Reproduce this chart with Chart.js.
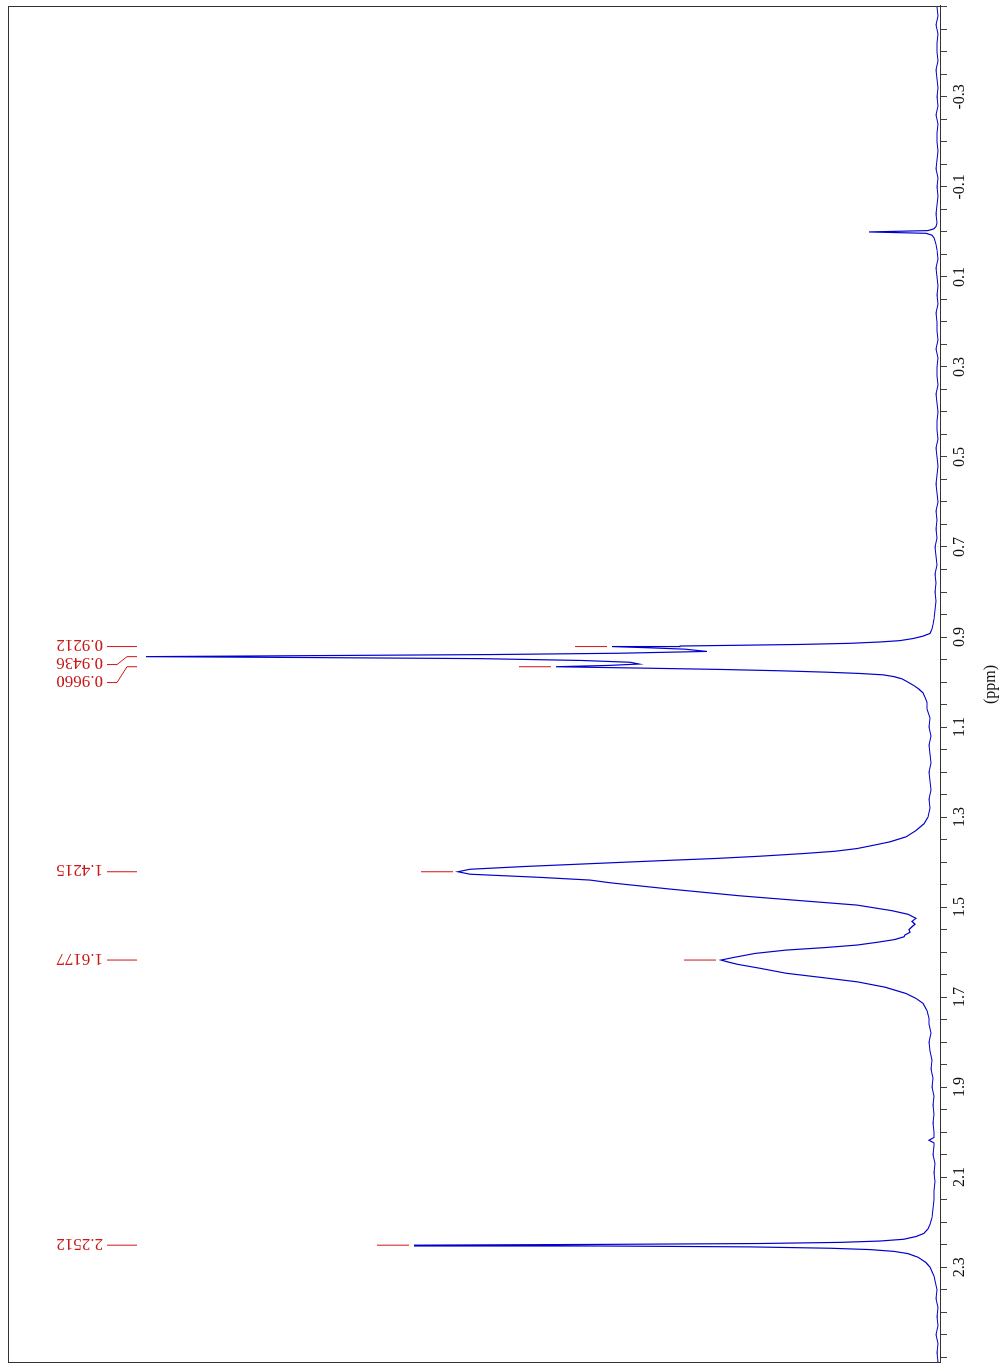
<!DOCTYPE html>
<html>
<head>
<meta charset="utf-8">
<title>1H NMR spectrum</title>
<script src="https://cdn.jsdelivr.net/npm/chart.js@4.4.1/dist/chart.umd.min.js"></script>
<style>
  html, body { margin: 0; padding: 0; background: #fff; overflow: hidden; }
  /* the spectrum is drawn landscape and turned a quarter turn to stand on its side */
  #wrap {
    position: absolute; left: 0; top: 0;
    width: 1365px; height: 1000px;
    transform-origin: 0 0;
    transform: translateY(1365px) rotate(-90deg);
  }
</style>
</head>
<body>
<div id="wrap"><canvas id="nmrChart" width="1365" height="1000"></canvas></div>
<script>
// Spectrum: chemical shift (ppm) and relative intensity
const ppm = [
  -0.50, -0.48, -0.46, -0.44, -0.42, -0.40, -0.38, -0.36, -0.34, -0.32,
  -0.30, -0.28, -0.26, -0.24, -0.22, -0.20, -0.18, -0.16, -0.14, -0.12,
  -0.10, -0.08, -0.06, -0.04, -0.02, -0.012, -0.007, -0.003, 0.000, 0.003,
  0.007, 0.013, 0.020, 0.028, 0.04, 0.06, 0.08, 0.10, 0.12, 0.14,
  0.16, 0.18, 0.20, 0.22, 0.24, 0.26, 0.28, 0.30, 0.32, 0.34,
  0.36, 0.38, 0.40, 0.42, 0.44, 0.46, 0.48, 0.50, 0.52, 0.54,
  0.56, 0.58, 0.60, 0.62, 0.64, 0.66, 0.68, 0.70, 0.72, 0.74,
  0.76, 0.78, 0.80, 0.82, 0.84, 0.86, 0.872, 0.882, 0.892, 0.898,
  0.903, 0.908, 0.911, 0.914, 0.9165, 0.918, 0.920, 0.9212, 0.924, 0.927,
  0.932, 0.936, 0.939, 0.9415, 0.9436, 0.9455, 0.948, 0.952, 0.956, 0.960,
  0.963, 0.966, 0.969, 0.972, 0.975, 0.978, 0.981, 0.984, 0.988, 0.993,
  0.999, 1.008, 1.016, 1.024, 1.034, 1.045, 1.06, 1.08, 1.10, 1.12,
  1.14, 1.16, 1.18, 1.20, 1.22, 1.24, 1.26, 1.28, 1.30, 1.315,
  1.33, 1.344, 1.355, 1.362, 1.37, 1.376, 1.381, 1.387, 1.392, 1.397,
  1.4016, 1.406, 1.410, 1.416, 1.4215, 1.427, 1.434, 1.44, 1.446, 1.46,
  1.475, 1.483, 1.4956, 1.508, 1.516, 1.525, 1.532, 1.538, 1.5437, 1.55,
  1.556, 1.562, 1.566, 1.572, 1.578, 1.5844, 1.59, 1.5956, 1.603, 1.6118,
  1.6177, 1.622, 1.627, 1.636, 1.647, 1.656, 1.666, 1.678, 1.692, 1.703,
  1.714, 1.73, 1.747, 1.76, 1.78, 1.80, 1.82, 1.84, 1.86, 1.88,
  1.90, 1.92, 1.94, 1.96, 1.98, 2.00, 2.012, 2.018, 2.024, 2.03,
  2.05, 2.07, 2.09, 2.11, 2.13, 2.15, 2.17, 2.19, 2.205, 2.215,
  2.225, 2.232, 2.238, 2.242, 2.245, 2.2475, 2.2495, 2.2512, 2.2530, 2.255,
  2.258, 2.261, 2.265, 2.270, 2.278, 2.29, 2.30, 2.32, 2.33, 2.35,
  2.37, 2.39, 2.41, 2.43, 2.45, 2.47, 2.49, 2.51, 2.513
];
const intensity = [
  3, 2, 4, 2, 3, 3, 2, 4, 3, 2,
  3, 2, 4, 2, 3, 3, 2, 3, 4, 2,
  3, 2, 3, 4, 3, 4, 6, 12, 71, 14,
  8, 6, 5, 4, 3, 2, 4, 3, 2, 3,
  2, 4, 3, 3, 2, 4, 2, 3, 3, 2,
  4, 3, 2, 3, 3, 2, 4, 3, 2, 3,
  4, 3, 2, 4, 3, 4, 3, 5, 4, 3,
  5, 4, 5, 4, 5, 6, 7, 8, 10, 17,
  26, 40, 60, 90, 140, 190, 260, 328, 290, 255,
  233, 320, 450, 640, 794, 640, 460, 360, 310, 301,
  330, 384, 300, 220, 160, 115, 80, 57, 46, 38,
  33, 26, 21, 17, 15, 13, 13, 10, 11, 9,
  11, 10, 9, 11, 10, 9, 11, 10, 12, 16,
  24, 34, 50, 65, 83, 105, 136, 180, 224, 280,
  329, 375, 417, 470, 482, 470, 400, 350, 330, 270,
  200, 155, 83, 48, 32, 24, 28, 25, 28, 31,
  30, 35, 36, 45, 62, 83, 115, 154, 185, 206,
  219, 212, 203, 180, 154, 120, 83, 55, 34, 24,
  17, 13, 11, 11, 9, 11, 10, 8, 9, 7,
  8, 6, 7, 6, 7, 6, 6, 11, 6, 6,
  7, 5, 6, 5, 6, 6, 7, 8, 10, 12,
  16, 24, 36, 60, 100, 180, 340, 526, 340, 190,
  110, 70, 46, 32, 22, 14, 10, 6, 5, 3,
  4, 2, 3, 2, 4, 2, 3, 2, 3
];

// Picked peaks (ppm) shown with red labels
const peakLabels = [0.9212, 0.9436, 0.9660, 1.4215, 1.6177, 2.2512];

// Axis: labelled ticks and the minor tick step
const majorTicks = [-0.3, -0.1, 0.1, 0.3, 0.5, 0.7, 0.9, 1.1, 1.3, 1.5, 1.7, 1.9, 2.1, 2.3];
const minorStep = 0.05;
const ppmRange = [-0.502, 2.513];
const intensityRange = [0, 932];

const tickValues = [];
for (let i = 0; i <= Math.round((2.5 + 0.5) / minorStep); i++) {
  tickValues.push(Math.round((-0.5 + i * minorStep) * 100) / 100);
}

const points = ppm.map((p, i) => ({ x: p, y: intensity[i] }));

// Box round the plot area
const framePlugin = {
  id: 'frame',
  afterDraw(chart) {
    const { ctx, chartArea: a } = chart;
    ctx.save();
    ctx.strokeStyle = '#333';
    ctx.lineWidth = 1;
    ctx.strokeRect(Math.round(a.left) + 0.5, Math.round(a.top) + 0.5,
      Math.round(a.right - a.left) - 1, Math.round(a.bottom - a.top));
    ctx.restore();
  }
};

// Peak labels along the top, with connectors and a tick beside each peak tip
const peakLabelPlugin = {
  id: 'peakLabels',
  afterDatasetsDraw(chart) {
    const { ctx, scales: { x, y } } = chart;
    ctx.save();
    ctx.lineWidth = 1;
    ctx.strokeStyle = '#d01515';
    ctx.fillStyle = '#c81818';
    ctx.font = '17px "Liberation Serif"';
    let prev = Infinity;
    peakLabels.forEach(p => {
      const peakX = x.getPixelForValue(p);
      const labelX = Math.min(peakX, prev - 18);
      prev = labelX;

      ctx.beginPath();
      ctx.moveTo(labelX, 107);
      ctx.lineTo(labelX, 117);
      ctx.lineTo(peakX, 127);
      ctx.lineTo(peakX, 137);
      ctx.stroke();

      ctx.save();
      ctx.translate(labelX + 2, 103);
      ctx.rotate(-Math.PI / 2);
      ctx.textAlign = 'left';
      ctx.textBaseline = 'middle';
      ctx.fillText(p.toFixed(4), 0, 0);
      ctx.restore();

      let tip = 0;
      ppm.forEach((v, i) => { if (Math.abs(v - p) < 0.004) tip = Math.max(tip, intensity[i]); });
      const tipY = y.getPixelForValue(tip);
      if (tipY - 37 > 150) {
        ctx.beginPath();
        ctx.moveTo(peakX, tipY - 5);
        ctx.lineTo(peakX, tipY - 37);
        ctx.stroke();
      }
    });
    ctx.restore();
  }
};

new Chart(document.getElementById('nmrChart'), {
  type: 'line',
  data: {
    datasets: [{
      data: points,
      borderColor: '#0000cc',
      borderWidth: 1.2,
      pointRadius: 0,
      tension: 0,
      fill: false
    }]
  },
  options: {
    responsive: false,
    animation: false,
    events: [],
    layout: { padding: { left: 2, right: 6, top: 8, bottom: 0 } },
    plugins: {
      legend: { display: false },
      tooltip: { enabled: false }
    },
    scales: {
      x: {
        type: 'linear',
        reverse: true,
        min: ppmRange[0],
        max: ppmRange[1],
        afterBuildTicks: scale => { scale.ticks = tickValues.map(v => ({ value: v })); },
        afterFit: scale => { scale.height = 60; scale.paddingLeft = 0; scale.paddingRight = 0; },
        ticks: {
          autoSkip: false,
          maxRotation: 0,
          minRotation: 0,
          padding: 3,
          color: '#111',
          font: { family: 'Liberation Serif', size: 16 },
          callback: v => majorTicks.some(m => Math.abs(m - v) < 1e-6) ? v.toFixed(1) : ''
        },
        grid: { drawOnChartArea: false, drawTicks: true, tickLength: 7, color: '#444' },
        border: { display: true, color: '#333', width: 1 },
        title: {
          display: true,
          text: '(ppm)',
          color: '#111',
          font: { family: 'Liberation Serif', size: 16 },
          padding: { top: 5, bottom: 0 }
        }
      },
      y: { display: false, min: intensityRange[0], max: intensityRange[1] }
    }
  },
  plugins: [framePlugin, peakLabelPlugin]
});
</script>
</body>
</html>
